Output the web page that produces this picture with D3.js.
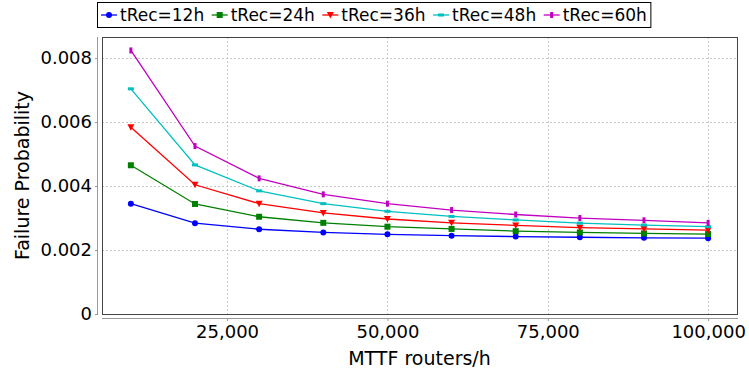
<!DOCTYPE html>
<html>
<head>
<meta charset="utf-8">
<script src="https://d3js.org/d3.v7.min.js"></script>
<style>
  body { margin: 0; background: #fff; }
  svg { font-family: "DejaVu Sans", sans-serif; }
</style>
</head>
<body>
<div id="chart"></div>
<script>
// data
const mttf = [10000, 20000, 30000, 40000, 50000, 60000, 70000, 80000, 90000, 100000];
const rec12 = [0.00345, 0.00284, 0.00265, 0.00255, 0.00249, 0.00245, 0.00242, 0.00240, 0.00238, 0.00237];
const rec24 = [0.00465, 0.00344, 0.00304, 0.00285, 0.00273, 0.00266, 0.00259, 0.00255, 0.00252, 0.00250];
const rec36 = [0.00584, 0.00404, 0.00345, 0.00316, 0.00297, 0.00285, 0.00277, 0.00270, 0.00266, 0.00262];
const rec48 = [0.00704, 0.00466, 0.00385, 0.00345, 0.00321, 0.00305, 0.00294, 0.00284, 0.00278, 0.00273];
const rec60 = [0.00824, 0.00525, 0.00424, 0.00374, 0.00345, 0.00325, 0.00311, 0.00300, 0.00293, 0.00285];
const seriesNames = ["tRec=12h", "tRec=24h", "tRec=36h", "tRec=48h", "tRec=60h"];
const xTicks = [25000, 50000, 75000, 100000];
const yTicks = [0, 0.002, 0.004, 0.006, 0.008];

const W = 749, H = 374;
const plot = { left: 102, right: 737, top: 37, bottom: 314 };

const series = [
  { name: seriesNames[0], values: rec12, color: "#0000ff", shape: "circle" },
  { name: seriesNames[1], values: rec24, color: "#008000", shape: "square" },
  { name: seriesNames[2], values: rec36, color: "#ff0000", shape: "down" },
  { name: seriesNames[3], values: rec48, color: "#00c0c0", shape: "hrect" },
  { name: seriesNames[4], values: rec60, color: "#c000c0", shape: "vrect" }
];

const svg = d3.select("#chart").append("svg")
  .attr("width", W).attr("height", H);

const x = d3.scaleLinear().domain([5500, 104500]).range([plot.left, plot.right]);
const y = d3.scaleLinear().domain([0, 0.00866]).range([plot.bottom, plot.top]);

// grid
const grid = svg.append("g")
  .attr("stroke", "#c8c8c8").attr("stroke-width", 1).attr("stroke-dasharray", "2,2");
grid.selectAll(".gx").data(xTicks).join("line")
  .attr("x1", d => Math.round(x(d)) + 0.5).attr("x2", d => Math.round(x(d)) + 0.5)
  .attr("y1", plot.top).attr("y2", plot.bottom);
grid.selectAll(".gy").data(yTicks.filter(d => d > 0)).join("line")
  .attr("y1", d => Math.round(y(d)) + 0.5).attr("y2", d => Math.round(y(d)) + 0.5)
  .attr("x1", plot.left).attr("x2", plot.right);

// plot outline
svg.append("rect")
  .attr("x", plot.left + 0.5).attr("y", plot.top + 0.5)
  .attr("width", plot.right - plot.left).attr("height", plot.bottom - plot.top)
  .attr("fill", "none").attr("stroke", "#444").attr("stroke-width", 1);

// axes
const xAxis = svg.append("g")
  .attr("transform", `translate(0,${plot.bottom + 4})`)
  .call(d3.axisBottom(x).tickValues(xTicks).tickFormat(d3.format(",")).tickSize(3).tickPadding(4));
xAxis.select(".domain").attr("stroke", "#999").attr("d", `M${plot.left},0.5H${plot.right + 1}`);
xAxis.selectAll(".tick line").attr("stroke", "#999");
xAxis.selectAll("text").attr("font-size", 18).attr("fill", "#000")
  .attr("font-family", "DejaVu Sans");

const yAxis = svg.append("g")
  .attr("transform", `translate(${plot.left - 4},0)`)
  .call(d3.axisLeft(y).tickValues(yTicks).tickFormat(d => d === 0 ? "0" : d3.format(".3f")(d)).tickSize(3).tickPadding(3));
yAxis.select(".domain").attr("stroke", "#999").attr("d", `M-0.5,${plot.top}V${plot.bottom + 1}`);
yAxis.selectAll(".tick line").attr("stroke", "#999");
yAxis.selectAll("text").attr("font-size", 18).attr("fill", "#000")
  .attr("font-family", "DejaVu Sans");

// axis titles
svg.append("text")
  .attr("x", (plot.left + plot.right) / 2).attr("y", 365)
  .attr("text-anchor", "middle").attr("font-size", 19)
  .text("MTTF routers/h");
svg.append("text")
  .attr("transform", `translate(29,${(plot.top + plot.bottom) / 2}) rotate(-90)`)
  .attr("text-anchor", "middle").attr("font-size", 19)
  .text("Failure Probability");

function drawShape(g, shape, color) {
  if (shape === "circle") {
    g.append("circle").attr("r", 3).attr("fill", color);
  } else if (shape === "square") {
    g.append("rect").attr("x", -3).attr("y", -3).attr("width", 6).attr("height", 6).attr("fill", color);
  } else if (shape === "down") {
    g.append("path").attr("d", "M-3.5,-3L3.5,-3L0,3.5Z").attr("fill", color);
  } else if (shape === "hrect") {
    g.append("rect").attr("x", -3).attr("y", -1.5).attr("width", 6).attr("height", 3).attr("fill", color);
  } else if (shape === "vrect") {
    g.append("rect").attr("x", -1.5).attr("y", -3).attr("width", 3).attr("height", 6).attr("fill", color);
  }
}

const line = d3.line().x((d, i) => x(mttf[i])).y(d => y(d));

series.forEach(s => {
  svg.append("path")
    .attr("d", line(s.values))
    .attr("fill", "none").attr("stroke", s.color).attr("stroke-width", 1.3);
  s.values.forEach((v, i) => {
    const g = svg.append("g").attr("transform", `translate(${x(mttf[i])},${y(v)})`);
    drawShape(g, s.shape, s.color);
  });
});

// legend
const legend = svg.append("g");
let lx = 101;
const ly = 15;
series.forEach(s => {
  const item = legend.append("g").attr("transform", `translate(${lx},${ly})`);
  item.append("line").attr("x1", 0).attr("x2", 16).attr("stroke", s.color).attr("stroke-width", 1.3);
  drawShape(item.append("g").attr("transform", "translate(8,0)"), s.shape, s.color);
  const t = item.append("text").attr("x", 19).attr("y", 6)
    .attr("font-size", 17).text(s.name);
  const w = t.node().getComputedTextLength();
  lx += 19 + w + 7.5;
});
legend.insert("rect", ":first-child")
  .attr("x", 97.5).attr("y", 2.5).attr("width", lx - 97 - 4).attr("height", 25)
  .attr("fill", "#fff").attr("stroke", "#000").attr("stroke-width", 1);
</script>
</body>
</html>
